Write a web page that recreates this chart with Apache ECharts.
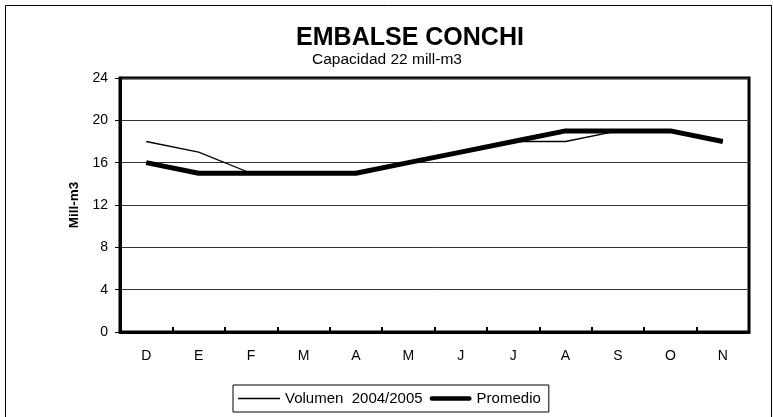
<!DOCTYPE html>
<html><head><meta charset="utf-8">
<script src="https://cdn.jsdelivr.net/npm/echarts@6/dist/echarts.min.js"></script>
<style>html,body{margin:0;padding:0;background:#fff}#c{width:773px;height:417px}</style>
</head><body><div id="c"></div>
<script>
const months = ['D','E','F','M','A','M','J','J','A','S','O','N'];
const volumen = [18,17,15,15,15,16,17,18,18,19,19,18];
const promedio = [16,15,15,15,15,16,17,18,19,19,19,18];
const yTicks = {min:0, max:24, interval:4};

const chart = echarts.init(document.getElementById('c'));
const F = 'Liberation Sans, Arial, sans-serif';
chart.setOption({
  animation:false,
  graphic:[{type:'rect', shape:{x:5.5,y:5.5,width:766,height:420}, style:{fill:'none',stroke:'#000',lineWidth:1}, silent:true}],
  title:[
    {text:'EMBALSE CONCHI', left:405, top:21, textAlign:'center', textStyle:{fontFamily:F,fontSize:25,fontWeight:'bold',color:'#000'}},
    {text:'Capacidad 22 mill-m3', left:382, top:47, textAlign:'center', textStyle:{fontFamily:F,fontSize:15.5,fontWeight:'normal',color:'#000'}}
  ],
  grid:{left:120,right:24,top:78,bottom:85,show:true,borderColor:'#000',borderWidth:3,backgroundColor:'transparent'},
  legend:{
    top:385, left:233, itemGap:7, itemWidth:42, itemHeight:12,
    borderColor:'#000', borderWidth:1, padding:[6,8,6,5], borderRadius:0,
    textStyle:{fontFamily:F,fontSize:15,color:'#000'},
    data:[
      {name:'Volumen  2004/2005', icon:'path://M0,0H42V1.4H0Z'},
      {name:'Promedio', icon:'path://M2,0H40A2,2 0 0 1 40,4.6H2A2,2 0 0 1 2,0Z'}
    ]
  },
  xAxis:{
    type:'category', data:months, boundaryGap:true,
    axisLine:{show:true,lineStyle:{color:'#000',width:3}},
    axisTick:{show:true,inside:true,length:5,lineStyle:{color:'#000',width:2},alignWithLabel:false},
    axisLabel:{fontFamily:F,fontSize:14,color:'#000',margin:17},
    splitLine:{show:false}
  },
  yAxis:{
    type:'value', min:yTicks.min, max:yTicks.max, interval:yTicks.interval,
    name:'Mill-m3', nameLocation:'middle', nameGap:38, nameRotate:90,
    nameTextStyle:{fontFamily:F,fontSize:13.5,fontWeight:'bold',color:'#000'},
    axisLine:{show:true,lineStyle:{color:'#000',width:3}},
    axisTick:{show:true,length:5,lineStyle:{color:'#000',width:1}},
    axisLabel:{fontFamily:F,fontSize:14,color:'#000',margin:12},
    splitLine:{show:true,lineStyle:{color:'#333',width:1}}
  },
  series:[
    {name:'Volumen  2004/2005', type:'line', data:volumen, symbol:'none', lineStyle:{color:'#000',width:1.3}, itemStyle:{color:'#000'}, z:3},
    {name:'Promedio', type:'line', data:promedio, symbol:'none', lineStyle:{color:'#000',width:5}, itemStyle:{color:'#000'}, z:2}
  ]
});
</script></body></html>
